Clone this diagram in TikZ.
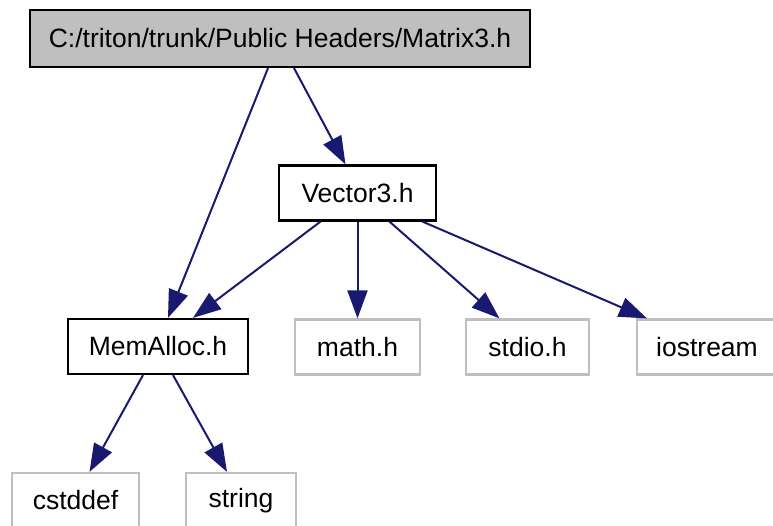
\documentclass[tikz,border=0pt]{standalone}
\usepackage{fontspec}
\setmainfont{Liberation Sans}
\usetikzlibrary{arrows.meta}
\definecolor{edgeblue}{HTML}{191970}
\definecolor{sysgray}{HTML}{BFBFBF}

\begin{document}
\begin{tikzpicture}[x=1pt, y=-1pt,
  every node/.style={font=\fontsize{26.5}{30}\selectfont, inner sep=0pt},
  file/.style={draw=black, line width=2.2pt, minimum height=55pt},
  top/.style={file, fill=sysgray},
  sys/.style={draw=sysgray, line width=2.2pt, minimum height=55pt},
  dep/.style={-{Triangle[length=28pt,width=20pt]}, draw=edgeblue, line width=2pt},]
\useasboundingbox (0,0) rectangle (773,526);
\node[top, minimum width=500pt, minimum height=57pt] (matrix) at (280,38.5) {C:/triton/trunk/Public Headers/Matrix3.h};
\node[file, minimum width=157pt] (vector) at (357.5,193) {Vector3.h};
\node[file, minimum width=180pt] (memalloc) at (158,346.5) {MemAlloc.h};
\node[sys, minimum width=125pt] (math) at (357.5,347) {math.h};
\node[sys, minimum width=123pt] (stdio) at (527.5,347) {stdio.h};
\node[sys, minimum width=140pt] (iostream) at (707,347) {iostream};
\node[sys, minimum width=127pt] (cstddef) at (75.5,500.5) {cstddef};
\node[sys, minimum width=110pt] (string) at (241,500.5) {string};
\draw[dep] ([xshift=-12pt]matrix.south) -- ([xshift=10pt]memalloc.north);
\draw[dep] ([xshift=14pt]matrix.south) -- ([xshift=-12pt]vector.north);
\draw[dep] ([xshift=-37pt]vector.south) -- ([xshift=35pt]memalloc.north);
\draw[dep] (vector.south) -- (math.north);
\draw[dep] ([xshift=32pt]vector.south) -- ([xshift=-28pt]stdio.north);
\draw[dep] ([xshift=65pt]vector.south) -- ([xshift=-60pt]iostream.north);
\draw[dep] ([xshift=-15pt]memalloc.south) -- ([xshift=14pt]cstddef.north);
\draw[dep] ([xshift=15pt]memalloc.south) -- ([xshift=-14pt]string.north);
\end{tikzpicture}
\end{document}
